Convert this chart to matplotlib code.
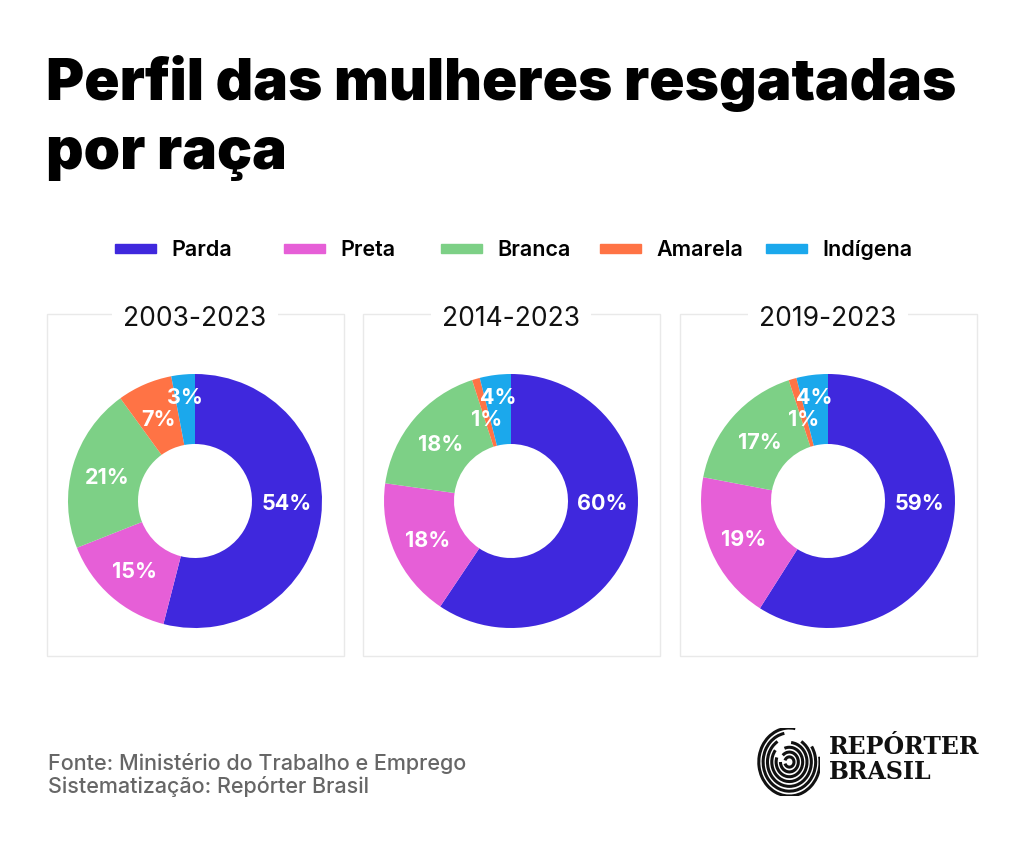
import matplotlib
matplotlib.use("Agg")
import matplotlib.pyplot as plt
from matplotlib.patches import Rectangle, Arc
import numpy as np

# data
categories = ["Parda", "Preta", "Branca", "Amarela", "Indígena"]
colors = ["#3f28dd", "#e65fd7", "#7dd086", "#ff7345", "#1ba8ec"]
periods = ["2003-2023", "2014-2023", "2019-2023"]
vals_2003 = [54, 15, 21, 7, 3]
vals_2014 = [60, 18, 18, 1, 4]
vals_2019 = [59, 19, 17, 1, 4]
all_vals = [vals_2003, vals_2014, vals_2019]

W, H = 1024, 853
fig = plt.figure(figsize=(W / 100, H / 100), dpi=100)
fig.patch.set_facecolor("white")

def fx(px):
    return px / W

def fy(py):
    return 1 - py / H

# title
fig.text(fx(46), fy(55), "Perfil das mulheres resgatadas\npor raça", fontsize=42,
         fontweight="black", family="Inter", va="top", ha="left",
         linespacing=1.36, color="black")

# legend (manual)
leg_x = [115, 284, 441, 600, 766]
for x, c, name in zip(leg_x, colors, categories):
    fig.patches.append(Rectangle((fx(x), fy(254)), fx(41), 9 / H, color=c,
                                 transform=fig.transFigure, figure=fig))
    fig.text(fx(x + 56), fy(250), name, fontsize=15.5, fontweight="semibold",
             family="Inter", va="center", ha="left", color="black")

# panels
centers = [195, 511, 828]
box_left = [47, 363, 680]
for k in range(3):
    bx = box_left[k]
    fig.patches.append(Rectangle((fx(bx), fy(657)), fx(297), (657 - 315) / H,
                                 fill=False, edgecolor="#e9e9e9", lw=1,
                                 transform=fig.transFigure, figure=fig))
    fig.text(fx(centers[k]), fy(319), periods[k], fontsize=19, family="Inter",
             fontweight="normal", ha="center", va="center", color="#111111",
             bbox=dict(facecolor="white", edgecolor="none", pad=8))

    r = 127
    ax = fig.add_axes([fx(centers[k] - r), fy(502 + r), fx(2 * r), 2 * r / H])
    vals = all_vals[k]
    wedges, _ = ax.pie(vals, colors=colors, startangle=90, counterclock=False,
                       radius=1, wedgeprops=dict(width=1 - 57 / 127, linewidth=0))
    for w, v in zip(wedges, vals):
        t1, t2 = w.theta1, w.theta2
        if t1 <= 0 <= t2:
            a = 0.0
        else:
            a = (t1 + t2) / 2
        ang = np.deg2rad(a)
        if v < 2:
            d = 0.69
        elif v < 5:
            d = 0.84
        else:
            d = 0.72
        ax.text(d * np.cos(ang), d * np.sin(ang) - 0.015, f"{v}%", ha="center", va="center",
                color="white", fontsize=15.5, fontweight="bold", family="Inter")
    ax.set_xlim(-1, 1)
    ax.set_ylim(-1, 1)
    ax.set_aspect("equal")
    ax.axis("off")

# footnote
fig.text(fx(48), fy(764), "Fonte: Ministério do Trabalho e Emprego", fontsize=15.5,
         family="Inter", fontweight="medium", color="#666666", va="center")
fig.text(fx(48), fy(787), "Sistematização: Repórter Brasil", fontsize=15.5,
         family="Inter", fontweight="medium", color="#666666", va="center")

# logo
fig.text(fx(829), fy(747), "REPÓRTER", fontsize=17, family="DejaVu Serif",
         fontweight="bold", color="#111111", va="center")
fig.text(fx(829), fy(772), "BRASIL", fontsize=17, family="DejaVu Serif",
         fontweight="bold", color="#111111", va="center")
lax = fig.add_axes([fx(752), fy(797), fx(68), 68 / H])
for i, s in enumerate(np.linspace(0.15, 1.0, 7)):
    lax.add_patch(Arc((0.55, 0.5), s * 0.9, s * 1.0, theta1=200 - 20 * i, theta2=520 - 25 * i,
                      lw=2.2, color="#111111"))
lax.set_xlim(0, 1)
lax.set_ylim(0, 1)
lax.axis("off")

fig.savefig("out.png", dpi=100)
